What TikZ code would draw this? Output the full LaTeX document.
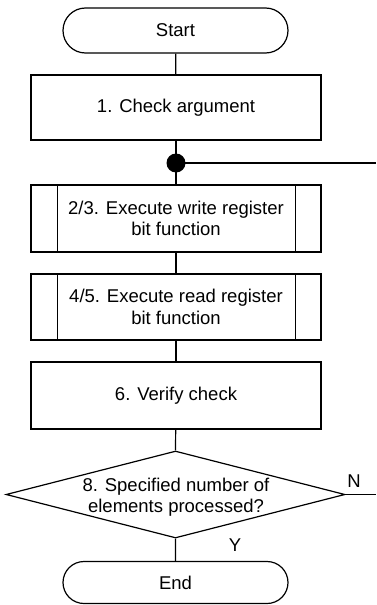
\documentclass[tikz,border=0pt]{standalone}
\usepackage{fontspec}
\setmainfont{Liberation Sans}
\usetikzlibrary{shapes.geometric,shapes.misc}
\begin{document}
\begin{tikzpicture}[x=1pt,y=-1pt,
  line width=1.2pt,
  every node/.style={font=\fontsize{18.5pt}{21.5pt}\selectfont},
  term/.style={draw,rounded rectangle,minimum width=225pt,minimum height=45pt,inner sep=0pt},
  proc/.style={draw,rectangle,minimum width=290pt,minimum height=66pt,inner sep=0pt,align=center},
  dec/.style={draw,diamond,minimum width=339pt,minimum height=87pt,inner sep=0pt},
  lbl/.style={font=\fontsize{18.5pt}{21.5pt}\selectfont}
]
\useasboundingbox (0,0) rectangle (376,605);
\node[term] (start) at (175.5,30.5) {Start};
\node[proc,minimum height=65pt] (check) at (176,107.5) {1. Check argument};
\fill (176,163) circle (9.5pt);
\coordinate (dot) at (176,163);
\coordinate (loopend) at (376,163);
\node[proc,minimum height=67pt] (wr) at (176,218.5) {2/3. Execute write register\\bit function};
\draw ([xshift=27pt]wr.north west) -- ([xshift=27pt]wr.south west)
      ([xshift=-26pt]wr.north east) -- ([xshift=-26pt]wr.south east);
\node[proc] (rd) at (176,307) {4/5. Execute read register\\bit function};
\draw ([xshift=27pt]rd.north west) -- ([xshift=27pt]rd.south west)
      ([xshift=-26pt]rd.north east) -- ([xshift=-26pt]rd.south east);
\node[proc,minimum height=67pt] (ver) at (176,395.5) {6. Verify check};
\node[dec] (d) at (175.5,494.5) {};
\node[align=center] (dtext) at (176,497) {8. Specified number of\\elements processed?};
\coordinate (nend) at (376,494.5);
\node[term,minimum height=42pt] (end) at (175.5,582.5) {End};
\draw (start) -- (check);
\draw (check) -- (dot);
\draw (dot) -- (wr);
\draw (dot) -- (loopend);
\draw (wr) -- (rd);
\draw (rd) -- (ver);
\draw (ver) -- (d.north);
\draw (d.south) -- (end);
\draw (d.east) -- (nend);
\node[lbl] (nlbl) at (354,481) {N};
\node[lbl] (ylbl) at (235,545) {Y};
\end{tikzpicture}
\end{document}
